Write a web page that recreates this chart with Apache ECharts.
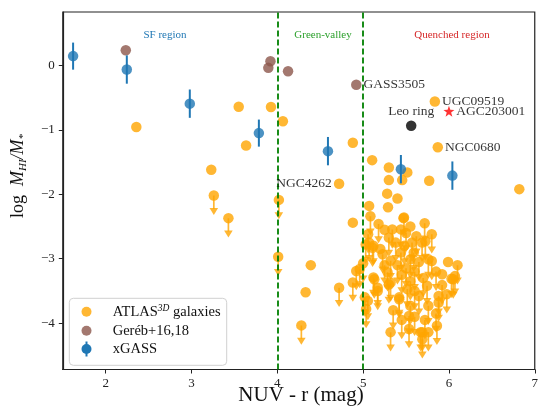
<!DOCTYPE html>
<html><head><meta charset="utf-8">
<script src="https://cdn.jsdelivr.net/npm/echarts@6/dist/echarts.min.js"></script>
<style>html,body{margin:0;padding:0;background:#fff}#c{width:541px;height:412px}</style>
</head><body><div id="c"></div>
<script>
// ---------- DATA ----------
const X_TICKS = [2, 3, 4, 5, 6, 7];
const Y_TICKS = [-4, -3, -2, -1, 0];
const REGION_NAMES = ['SF region', 'Green-valley', 'Quenched region'];
const DIVIDERS = [4, 5];

// xGASS (with symmetric errors)
const xgassX = [1.62, 2.246, 2.98, 3.785, 4.59, 5.44, 6.04];
const xgassY = [0.145, -0.063, -0.593, -1.05, -1.33, -1.61, -1.71];
const xgassErr = [0.21, 0.22, 0.22, 0.21, 0.22, 0.22, 0.22];

// Gereb+16,18
const gerebX = [2.234, 3.92, 3.895, 4.125, 4.92];
const gerebY = [0.235, 0.065, -0.037, -0.09, -0.30];

// ATLAS3D detections
const atlasDetX = [2.357, 3.55, 3.926, 4.065, 4.88, 3.636, 3.23, 5.105, 5.30, 5.515, 5.30, 5.455, 5.77, 6.82, 5.28, 5.40, 5.29, 4.88, 4.39, 4.33, 5.07, 5.836, 5.87, 4.72, 5.99, 5.92, 5.47, 5.55, 5.25, 5.2];
const atlasDetY = [-0.955, -0.64, -0.645, -0.865, -1.2, -1.243, -1.62, -1.47, -1.585, -1.66, -1.78, -1.78, -1.79, -1.92, -1.99, -2.065, -2.2, -2.44, -3.1, -3.52, -2.18, -0.56, -1.27, -1.836, -3.05, -3.24, -2.37, -2.5, -2.55, -2.85];

// ATLAS3D upper limits
const atlasUlX = [3.26, 3.43, 4.018, 4.01, 4.28, 4.72, 4.88, 4.92, 4.96, 5.0, 5.02, 5.055, 5.035, 5.085, 5.18, 5.058, 5.07, 5.11, 5.03, 5.12, 5.227, 5.32, 5.44, 5.476, 5.717, 5.80, 5.57, 5.687, 5.725, 5.59, 5.34, 5.44, 5.30, 5.55, 5.76, 5.80, 6.10, 6.03, 6.07, 6.05, 5.12, 5.17, 5.17, 5.13, 5.285, 5.32, 5.30, 5.42, 5.42, 5.515, 5.55, 5.65, 5.76, 5.745, 5.88, 5.92, 5.975, 5.88, 5.535, 5.32, 5.535, 5.69, 5.76, 5.86, 5.69, 5.67, 5.38, 5.48, 5.5, 5.45, 5.6, 5.65, 5.55, 5.6, 5.7, 5.85, 5.4, 5.25, 5.5, 5.62, 5.35, 5.6, 5.72, 5.45, 5.85];
const atlasUlY = [-2.02, -2.37, -2.087, -2.97, -4.035, -3.45, -3.37, -3.19, -3.16, -3.07, -3.6, -3.655, -3.78, -2.34, -2.46, -2.62, -2.75, -2.83, -2.78, -2.80, -2.93, -3.03, -2.905, -2.36, -2.45, -2.62, -2.75, -2.75, -2.73, -2.905, -2.545, -2.545, -2.67, -3.01, -3.01, -3.035, -3.10, -3.31, -3.27, -3.32, -3.29, -3.45, -3.5, -3.32, -3.21, -3.37, -3.4, -3.60, -3.63, -3.47, -3.73, -3.58, -3.73, -3.42, -3.58, -3.41, -3.55, -3.68, -3.89, -4.14, -4.09, -4.14, -4.14, -4.04, -4.25, -4.14, -2.75, -2.8, -3.15, -3.25, -3.2, -3.05, -3.35, -3.5, -3.3, -3.2, -3.1, -3.1, -2.6, -2.65, -3.8, -3.9, -3.95, -3.95, -3.85];
const ARROW_LEN = 0.3;

// Special objects
const leoRing = [5.56, -0.935];
const agc = [6.0, -0.71];

// Annotations
const annotNames = ['GASS3505', 'UGC09519', 'NGC0680', 'NGC4262', 'AGC203001', 'Leo ring'];
const annotX = [4.92, 5.836, 5.87, 4.72, 6.0, 5.56];
const annotY = [-0.30, -0.56, -1.27, -1.836, -0.71, -0.935];

// ---------- STYLE ----------
const ORANGE = '#FFA500', BROWN = '#8c564b', BLUE = '#1f77b4';
const FONT = 'Liberation Serif';
const MS = 10.5;
const zip = (a, b) => a.map((v, i) => [v, b[i]]);

const chart = echarts.init(document.getElementById('c'), null, {renderer: 'canvas'});

function arrowItem(params, api) {
  const x = api.value(0), y = api.value(1);
  const p0 = api.coord([x, y]);
  const p1 = api.coord([x, y - ARROW_LEN]);
  const hw = 4.3, hh = 7;
  return {type: 'group', children: [
    {type: 'line', shape: {x1: p0[0], y1: p0[1], x2: p1[0], y2: p1[1] - hh + 1},
      style: {stroke: ORANGE, lineWidth: 1.7, opacity: 0.8}},
    {type: 'polygon', shape: {points: [[p1[0] - hw, p1[1] - hh], [p1[0] + hw, p1[1] - hh], [p1[0], p1[1]]]},
      style: {fill: ORANGE, opacity: 0.8}}
  ]};
}
function errItem(params, api) {
  const x = api.value(0), y = api.value(1), e = api.value(2);
  const a = api.coord([x, y + e]), b = api.coord([x, y - e]);
  return {type: 'line', shape: {x1: a[0], y1: a[1], x2: b[0], y2: b[1]}, style: {stroke: BLUE, lineWidth: 2}};
}

const annotPos = {
  'GASS3505': {position: 'right', distance: 2},
  'UGC09519': {position: 'right', distance: 2},
  'NGC0680': {position: 'right', distance: 2},
  'NGC4262': {position: 'left', distance: 2},
  'AGC203001': {position: 'right', distance: 2},
  'Leo ring': {position: 'top', distance: 2}
};
const annotData = annotNames.map((n, i) => ({
  value: [annotX[i], annotY[i]],
  label: Object.assign({show: true, formatter: n, color: '#000', fontFamily: FONT, fontSize: 13.5}, annotPos[n])
}));

const axisFont = {fontFamily: FONT, fontSize: 13, color: '#222'};

const option = {
  animation: false,
  grid: {left: 62.8, right: 0, top: 12, bottom: 42.5, show: true, borderColor: '#222', borderWidth: 1.2, backgroundColor: 'transparent'},
  xAxis: {
    type: 'value', min: 1.5, max: 7,
    axisLine: {show: true, onZero: false, lineStyle: {color: '#222', width: 1.2}},
    axisTick: {show: true, length: 4, customValues: X_TICKS, lineStyle: {color: '#222'}},
    axisLabel: Object.assign({customValues: X_TICKS, margin: 8}, axisFont),
    splitLine: {show: false}
  },
  yAxis: {
    type: 'value', min: -4.72, max: 0.83,
    axisLine: {show: true, onZero: false, lineStyle: {color: '#222', width: 1.2}},
    axisTick: {show: true, length: 4, customValues: Y_TICKS, lineStyle: {color: '#222'}},
    axisLabel: Object.assign({customValues: Y_TICKS, margin: 8, formatter: v => String(v).replace('-', '\u2212')}, axisFont),
    splitLine: {show: false}
  },
  graphic: [
    ...REGION_NAMES.map((t, i) => ({type: 'text', z: 50, style: {text: t, fontFamily: FONT, fontSize: 11,
      fill: ['#1f77b4', '#2ca02c', '#d62728'][i], textAlign: 'center', textVerticalAlign: 'middle'},
      x: [165, 323, 452][i], y: 35})),
    {type: 'text', x: 301, y: 395, style: {text: 'NUV - r (mag)', fontFamily: FONT, fontSize: 21, fill: '#111', textAlign: 'center', textVerticalAlign: 'middle'}},
    {type: 'text', x: 18, y: 176, rotation: Math.PI / 2,
      style: {text: '{n|log}   {i|M}{s|HI}{i|/M}{s|*}', fontFamily: FONT, fill: '#111', textAlign: 'center', textVerticalAlign: 'middle',
        rich: {n: {fontFamily: FONT, fontSize: 18, lineHeight: 22}, i: {fontFamily: FONT, fontStyle: 'italic', fontSize: 18, lineHeight: 22},
          s: {fontFamily: FONT, fontStyle: 'italic', fontSize: 11, lineHeight: 22, verticalAlign: 'bottom', padding: [6, 0, 0, 0]}}}},
    {type: 'rect', z: 60, shape: {x: 69.3, y: 298.3, width: 157.4, height: 67, r: 4}, style: {fill: 'rgba(255,255,255,0.85)', stroke: '#d0d0d0', lineWidth: 1}},
    {type: 'circle', z: 61, shape: {cx: 86.5, cy: 311.7, r: 5}, style: {fill: ORANGE, opacity: 0.8}},
    {type: 'circle', z: 61, shape: {cx: 86.5, cy: 330.7, r: 5}, style: {fill: BROWN, opacity: 0.8}},
    {type: 'line', z: 61, shape: {x1: 86.5, y1: 341.5, x2: 86.5, y2: 356.5}, style: {stroke: BLUE, lineWidth: 2}},
    {type: 'circle', z: 62, shape: {cx: 86.5, cy: 349, r: 5}, style: {fill: BLUE}},
    {type: 'text', z: 61, x: 112.7, y: 311.7, style: {text: 'ATLAS{sup|3D} galaxies', fontFamily: FONT, fontSize: 14.5, fill: '#111', textVerticalAlign: 'middle',
      rich: {sup: {fontFamily: FONT, fontSize: 9.5, fontStyle: 'italic', verticalAlign: 'top', lineHeight: 17}}}},
    {type: 'text', z: 61, x: 112.7, y: 330.7, style: {text: 'Geréb+16,18', fontFamily: FONT, fontSize: 14.5, fill: '#111', textVerticalAlign: 'middle'}},
    {type: 'text', z: 61, x: 112.7, y: 349, style: {text: 'xGASS', fontFamily: FONT, fontSize: 14.5, fill: '#111', textVerticalAlign: 'middle'}}
  ],
  series: [
    {type: 'custom', name: 'ulArrows', renderItem: arrowItem, data: zip(atlasUlX, atlasUlY), z: 2, clip: true,
      markLine: {silent: true, symbol: 'none', label: {show: false},
        lineStyle: {color: 'green', width: 1.8, type: [6, 3]}, data: DIVIDERS.map(v => ({xAxis: v}))}},
    {type: 'scatter', name: 'ATLAS UL', data: zip(atlasUlX, atlasUlY), symbolSize: MS, itemStyle: {color: ORANGE, opacity: 0.8}, z: 3},
    {type: 'scatter', name: 'ATLAS det', data: zip(atlasDetX, atlasDetY), symbolSize: MS, itemStyle: {color: ORANGE, opacity: 0.8}, z: 3},
    {type: 'scatter', name: 'Gereb', data: zip(gerebX, gerebY), symbolSize: MS, itemStyle: {color: BROWN, opacity: 0.8}, z: 4},
    {type: 'custom', name: 'xgassErr', renderItem: errItem, data: xgassX.map((v, i) => [v, xgassY[i], xgassErr[i]]), z: 5},
    {type: 'scatter', name: 'xGASS', data: zip(xgassX, xgassY), symbolSize: MS, itemStyle: {color: BLUE}, z: 6},
    {type: 'scatter', name: 'Leo', data: [leoRing], symbolSize: MS, itemStyle: {color: '#000'}, z: 6},
    {type: 'scatter', name: 'AGC', data: [agc], symbol: 'path://M0,-10 L2.35,-3.24 L9.51,-3.09 L3.8,1.24 L5.88,8.09 L0,4 L-5.88,8.09 L-3.8,1.24 L-9.51,-3.09 L-2.35,-3.24 Z', symbolSize: 11, itemStyle: {color: '#ff0000'}, z: 6},
    {type: 'scatter', name: 'annot', data: annotData, symbolSize: MS, itemStyle: {color: 'rgba(0,0,0,0)'}, z: 7, silent: true}
  ]
};
chart.setOption(option);
</script>
</body></html>
